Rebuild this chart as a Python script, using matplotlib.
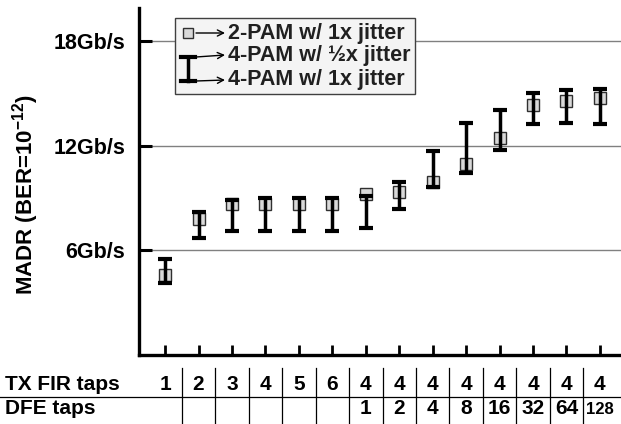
import matplotlib
matplotlib.use('Agg')
import matplotlib.pyplot as plt
import matplotlib.transforms as mtransforms
from matplotlib.patches import FancyArrowPatch, Rectangle

plt.rcParams['font.family'] = ['Liberation Sans', 'DejaVu Sans']
plt.rcParams['font.weight'] = 'bold'
plt.rcParams['mathtext.fontset'] = 'custom'
plt.rcParams['mathtext.rm'] = 'Liberation Sans:bold'
plt.rcParams['mathtext.bf'] = 'Liberation Sans:bold'
plt.rcParams['mathtext.default'] = 'rm'

# data (Gb/s)
positions = list(range(1, 15))
pam2_1x = [4.57, 7.81, 8.67, 8.67, 8.67, 8.67, 9.21, 9.33, 9.9, 10.93, 12.44, 14.36, 14.55, 14.72]
pam4_half = [5.49, 8.19, 8.9, 9.0, 9.0, 9.0, 9.1, 9.94, 11.71, 13.3, 14.06, 15.05, 15.2, 15.24]
pam4_1x = [4.11, 6.73, 7.09, 7.09, 7.09, 7.09, 7.27, 8.38, 9.62, 10.42, 11.77, 13.27, 13.33, 13.27]
tx_fir = ['1', '2', '3', '4', '5', '6', '4', '4', '4', '4', '4', '4', '4', '4']
dfe = ['', '', '', '', '', '', '1', '2', '4', '8', '16', '32', '64', '128']
yticks = [6, 12, 18]
ytick_labels = ['6Gb/s', '12Gb/s', '18Gb/s']

fig = plt.figure(figsize=(6.21, 4.24), dpi=100)
ax = fig.add_axes([139 / 621, 1 - 355 / 424, 1 - 139 / 621, 347 / 424])

mid = [(a + b) / 2 for a, b in zip(pam4_half, pam4_1x)]
err = [(a - b) / 2 for a, b in zip(pam4_half, pam4_1x)]

ax.plot(positions, pam2_1x, 's', ms=8.8, mfc='#d9d9d9', mec='#303030', mew=1.0, zorder=3)
ax.errorbar(positions, mid, yerr=err, fmt='none', ecolor='black', elinewidth=2.5,
            capsize=5, capthick=3.0, zorder=4)

ax.set_xlim(0.22, 14.63)
ax.set_ylim(0, 19.9)
ax.set_yticks(yticks)
ax.set_yticklabels(ytick_labels, fontsize=15.5, fontweight='bold')
ax.set_xticks(positions)
ax.set_xticklabels([])
for y in yticks:
    ax.axhline(y, color='#808080', lw=1.0, zorder=1)

for s in ['top', 'right']:
    ax.spines[s].set_visible(False)
ax.spines['left'].set_linewidth(2.4)
ax.spines['bottom'].set_linewidth(2.4)
ax.tick_params(axis='y', direction='in', length=9.5, width=2.2, pad=10)
ax.tick_params(axis='x', direction='in', length=7, width=2.0)

fig.text(26 / 621, 1 - 195 / 424, r'MADR (BER=10$^{-12}$)', rotation=90,
         ha='center', va='center', fontsize=16, fontweight='bold')

# legend drawn by hand
fx = lambda px: px / 621
fy = lambda py: 1 - py / 424
fig.add_artist(Rectangle((fx(175), fy(94)), fx(415) - fx(175), fy(18) - fy(94),
                         transform=fig.transFigure, facecolor='#f4f4f4',
                         edgecolor='#404040', lw=1.0, zorder=5))
fig.add_artist(plt.Line2D([fx(188)], [fy(33)], marker='s', ms=7, mfc='#d9d9d9',
                          mec='#303030', mew=1.0, transform=fig.transFigure, zorder=6))
fig.add_artist(plt.Line2D([fx(188), fx(188)], [fy(57), fy(81)], color='black', lw=2.5,
                          transform=fig.transFigure, zorder=6))
for yy in (57, 81):
    fig.add_artist(plt.Line2D([fx(181), fx(195)], [fy(yy), fy(yy)], color='black', lw=3.0,
                              transform=fig.transFigure, zorder=6))
for y0, y1 in ((33, 33), (57, 55), (81, 80)):
    fig.add_artist(FancyArrowPatch((fx(196), fy(y0)), (fx(225), fy(y1)),
                                   transform=fig.transFigure, arrowstyle='->',
                                   mutation_scale=11, lw=1.0, color='black',
                                   shrinkA=0, shrinkB=0, zorder=7))
for yy, txt in ((33, '2-PAM w/ 1x jitter'), (55, '4-PAM w/ \u00bdx jitter'), (80, '4-PAM w/ 1x jitter')):
    fig.text(fx(228), fy(yy), txt, ha='left', va='center', fontsize=15.5, fontweight='bold',
             color='#202020', zorder=7)

# table under the axis
trans = mtransforms.blended_transform_factory(ax.transData, fig.transFigure)
for x, t, d in zip(positions, tx_fir, dfe):
    ax.text(x, fy(385), t, transform=trans, ha='center', va='center', fontsize=15,
            fontweight='bold', clip_on=False)
    ax.text(x, fy(409), d, transform=trans, ha='center', va='center',
            fontsize=12 if len(d) > 2 else 15, fontweight='bold', clip_on=False)
for x in positions[:-1]:
    ax.plot([x + 0.5, x + 0.5], [fy(368), 0], color='black', lw=0.9, transform=trans,
            clip_on=False)
fig.add_artist(plt.Line2D([0, 1], [fy(397), fy(397)], color='black', lw=0.9,
                          transform=fig.transFigure))
fig.text(fx(5), fy(385), 'TX FIR taps', ha='left', va='center', fontsize=15, fontweight='bold')
fig.text(fx(5), fy(409), 'DFE taps', ha='left', va='center', fontsize=15, fontweight='bold')

fig.savefig('out.png', dpi=100)
